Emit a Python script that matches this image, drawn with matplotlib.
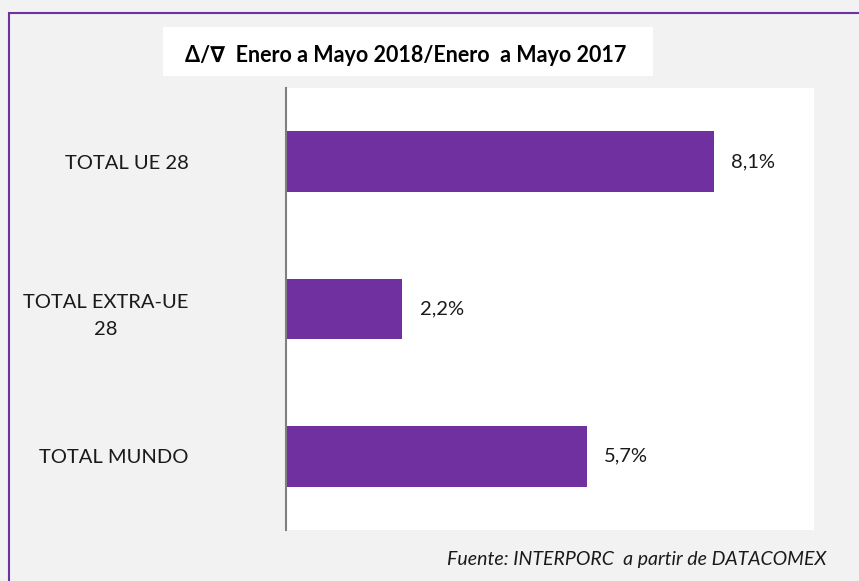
import matplotlib
matplotlib.use("Agg")
import matplotlib.pyplot as plt
from matplotlib.patches import Rectangle

plt.rcParams["font.family"] = ["Lato", "DejaVu Sans"]

categorias = ["TOTAL UE 28", "TOTAL EXTRA-UE\n28", "TOTAL MUNDO"]
valores = [8.1, 2.2, 5.7]
etiquetas = ["8,1%", "2,2%", "5,7%"]
titulo = "Δ/∇  Enero a Mayo 2018/Enero  a Mayo 2017"
fuente = "Fuente: INTERPORC  a partir de DATACOMEX"

morado = "#7030a0"

W, H = 859, 581
fig = plt.figure(figsize=(W / 100, H / 100), dpi=100)
fig.patch.set_facecolor("#f2f2f2")

# marco morado (recortado a la derecha y abajo)
fig.patches.append(Rectangle((9 / W, -0.1), 1.2, 1 - 13 / H + 0.1,
                             transform=fig.transFigure, fill=False,
                             edgecolor=morado, lw=1.5))

ax = fig.add_axes([286 / W, 1 - 530 / H, (814 - 286) / W, (530 - 88) / H])
ax.set_facecolor("white")

y = list(range(len(valores)))
ax.barh(y, valores, height=0.41, color=morado, zorder=2)
for yi, v, et in zip(y, valores, etiquetas):
    ax.text(v + 0.33, yi, et, va="center", ha="left", fontsize=14.5, color="#1a1a1a")

ax.set_xlim(0, 10)
ax.set_ylim(2.5, -0.5)
ax.set_xticks([])
ax.set_yticks(y)
ax.set_yticklabels(categorias, fontsize=14.5, multialignment="center",
                   linespacing=1.75, color="#1a1a1a")
ax.tick_params(axis="y", length=0, pad=70)
for s in ["top", "right", "bottom"]:
    ax.spines[s].set_visible(False)
ax.spines["left"].set_color("#808080")
ax.spines["left"].set_linewidth(1.5)

# caja del título
fig.patches.append(Rectangle((163 / W, 1 - 76 / H), (653 - 163) / W, 49 / H,
                             transform=fig.transFigure, facecolor="white",
                             edgecolor="none"))
fig.text(406 / W, 1 - 56 / H, titulo, ha="center", va="center",
         fontsize=15.5, fontweight="bold", color="black")

fig.text(826 / W, 1 - 559 / H, fuente, ha="right", va="center",
         fontsize=14, style="italic", color="#1a1a1a")

fig.savefig("out.png", dpi=100, facecolor=fig.get_facecolor())
